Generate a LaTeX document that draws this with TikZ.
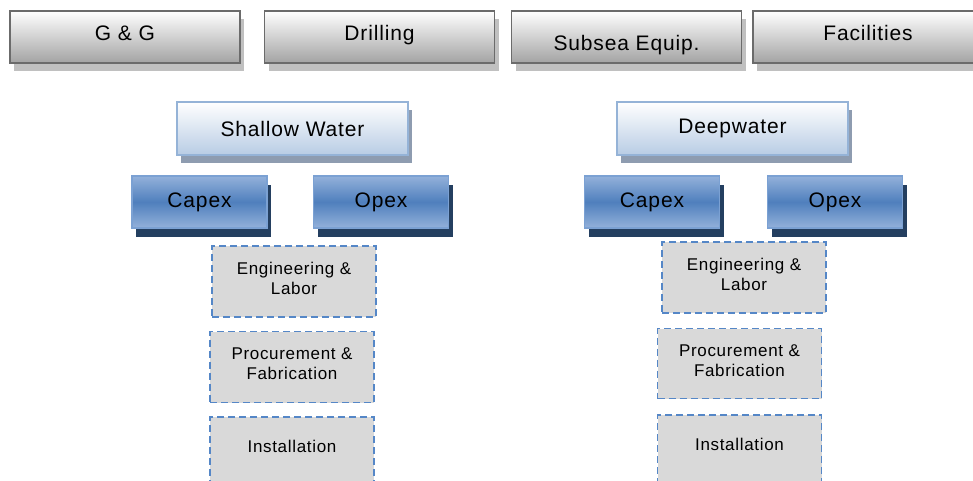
\documentclass[tikz,border=0pt]{standalone}
\usepackage{fontspec}
\setmainfont[LetterSpace=4]{Liberation Sans}
\usetikzlibrary{shadows,positioning}
\definecolor{topedge}{HTML}{6B6B6B}
\definecolor{topgray}{HTML}{A3A3A3}
\definecolor{topshade}{HTML}{C0C0C0}
\definecolor{paleedge}{HTML}{95B3D7}
\definecolor{palefill}{HTML}{B8CCE4}
\definecolor{paleshade}{HTML}{8E9CB0}
\definecolor{blueedge}{HTML}{7BA1D3}
\definecolor{bluelight}{HTML}{93B1DA}
\definecolor{bluemid}{HTML}{4F7FBD}
\definecolor{blueshade}{HTML}{243F60}
\definecolor{dashedge}{HTML}{5587C7}
\definecolor{dashfill}{HTML}{D9D9D9}

\begin{document}
\begin{tikzpicture}[x=1pt,y=-1pt,topbox/.style={draw=topedge,line width=1.5pt,top color=white,bottom color=topgray,minimum width=230pt,minimum height=52pt,inner sep=0pt,font=\fontsize{21}{25}\selectfont,text height=10pt,text depth=3pt,drop shadow={shadow xshift=4pt,shadow yshift=-8pt,fill=topshade,opacity=1}},watbox/.style={draw=paleedge,line width=1.5pt,top color=white,bottom color=palefill,minimum width=231pt,minimum height=53pt,inner sep=0pt,font=\fontsize{21}{25}\selectfont,drop shadow={shadow xshift=4pt,shadow yshift=-8pt,fill=paleshade,opacity=1}},costbox/.style={draw=blueedge,line width=1.5pt,top color=bluelight,bottom color=bluelight,middle color=bluemid,minimum width=135pt,minimum height=52pt,inner sep=0pt,font=\fontsize{21}{25}\selectfont,drop shadow={shadow xshift=4pt,shadow yshift=-9pt,fill=blueshade,opacity=1}},dashbox/.style={draw=dashedge,line width=1.5pt,dash pattern=on 7pt off 4pt,fill=dashfill,minimum width=164pt,minimum height=71pt,inner sep=0pt,align=center,font=\fontsize{17}{20}\selectfont,text depth=6pt}]
\useasboundingbox (0,0) rectangle (973,481);
% disciplines
\node[topbox] (gg) at (125,37) {G \& G};
\node[topbox] (drilling) at (379.5,37) {Drilling};
\node[topbox,text height=30pt] (subsea) at (626.5,37) {Subsea Equip.};
\node[topbox] (facilities) at (868,37) {Facilities};
% shallow water side
\node[watbox] (shallow) at (292.5,128.5) {Shallow Water};
\node[costbox] (capexl) at (199.5,202) {Capex};
\node[costbox] (opexl) at (381,202) {Opex};
\node[dashbox] (engl) at (294,281.5) {Engineering \&\\Labor};
\node[dashbox,below=13pt of engl,xshift=-2pt] (procl) {Procurement \&\\Fabrication};
\node[dashbox,below=13pt of procl,text depth=12pt] (instl) {Installation};
% deepwater side
\node[watbox] (deep) at (732.5,128.5) {Deepwater};
\node[costbox] (capexr) at (652,202) {Capex};
\node[costbox] (opexr) at (835,202) {Opex};
\node[dashbox] (engr) at (744,277.5) {Engineering \&\\Labor};
\node[dashbox,below=14pt of engr,xshift=-4.5pt,minimum height=70pt] (procr) {Procurement \&\\Fabrication};
\node[dashbox,below=15pt of procr,text depth=12pt] (instr) {Installation};
\end{tikzpicture}
\end{document}
